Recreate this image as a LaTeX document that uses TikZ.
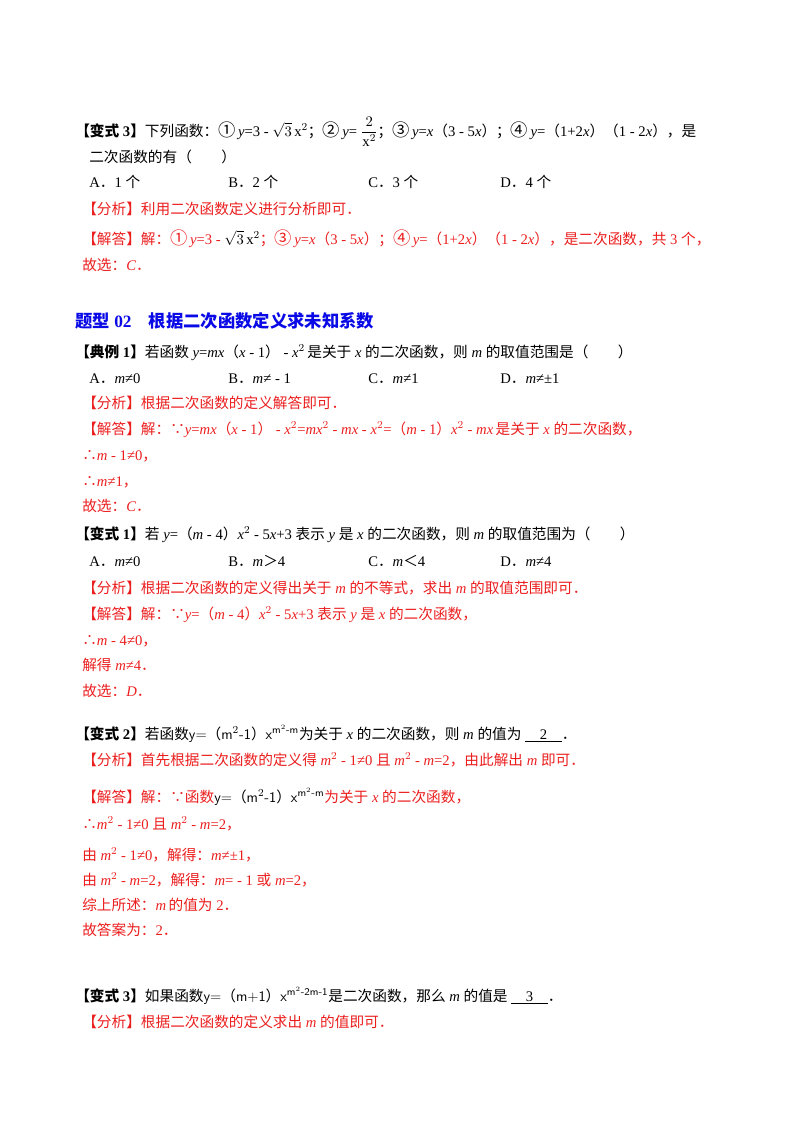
\documentclass[tikz,border=0pt]{standalone}
\usepackage{fontspec}
\usepackage{amsmath}
\setmainfont{Liberation Serif}
\newfontfamily\cjk{Noto Sans CJK SC}
\XeTeXinterchartokenstate=1
\newXeTeXintercharclass\cjkcls
\newXeTeXintercharclass\pcls
\makeatletter
\def\setcls#1#2#3{\count@=#1\relax\loop\XeTeXcharclass\count@=#3\ifnum\count@<#2\advance\count@ 1\repeat}
\setcls{"4E00}{"9FFF}\cjkcls\setcls{"3000}{"303F}\pcls\setcls{"FF00}{"FFEF}\pcls\setcls{"2460}{"2473}\pcls\setcls{"2234}{"2235}\pcls
\makeatother
\XeTeXinterchartoks 0 \cjkcls={\hspace{0.25em}\begingroup\cjk}
\XeTeXinterchartoks 4095 \cjkcls={\begingroup\cjk}
\XeTeXinterchartoks \cjkcls 0={\endgroup\hspace{0.25em}}
\XeTeXinterchartoks \cjkcls 4095={\endgroup}
\XeTeXinterchartoks 0 \pcls={\begingroup\cjk}
\XeTeXinterchartoks 4095 \pcls={\begingroup\cjk}
\XeTeXinterchartoks \pcls 0={\endgroup}
\XeTeXinterchartoks \pcls 4095={\endgroup}
\definecolor{rd}{RGB}{235,30,30}
\definecolor{bl}{RGB}{10,10,230}
\newcommand{\vi}[1]{\textit{#1}}
\newcommand{\gp}{\hspace{0.25em}}
\newcommand{\vs}[1]{\gp\textit{#1}\gp}
\newcommand{\ci}[1]{{\fontsize{13pt}{13pt}\selectfont #1}}
\newcommand{\pic}[1]{{\fontfamily{lmss}\selectfont\upshape #1}}
\begin{document}
\begin{tikzpicture}[x=0.75pt,y=-0.75pt,
 t/.style={anchor=base west,inner sep=0pt,font=\fontsize{11pt}{12pt}\selectfont},
 r/.style={t,text=rd},
 h/.style={anchor=base west,inner sep=0pt,font=\fontsize{13pt}{15pt}\selectfont\bfseries,text=bl}]
\useasboundingbox (0,0) rectangle (800,1132);
\node[t] (a1) at (75,136) {\textbf{【变式3】}下列函数：\ci{①}\,\vi{y}=3 - $\sqrt{3}\,\mathrm{x}^2$；\ci{②}\,\vi{y}= $\dfrac{2}{\mathrm{x}^2}$；\ci{③}\,\vi{y}=\vi{x}（3 - 5\vi{x}）；\ci{④}\,\vi{y}=（1+2\vi{x}）（1 - 2\vi{x}），是};
\node[t] (a2) at (89,162) {二次函数的有（\quad\quad）};
\node[t] (a3) at (89,187) {A．1个};
\node[t] (a4) at (228,187) {B．2个};
\node[t] (a5) at (368,187) {C．3个};
\node[t] (a6) at (500,187) {D．4个};
\node[r] (a7) at (82,214) {【分析】利用二次函数定义进行分析即可．};
\node[r] (a8) at (82,244) {【解答】解：\ci{①}\,\vi{y}=3 - {\color{black}$\sqrt{3}\,\mathrm{x}^2$}；\ci{③}\,\vi{y}=\vi{x}（3 - 5\vi{x}）；\ci{④}\,\vi{y}=（1+2\vi{x}）（1 - 2\vi{x}），是二次函数，共3个，};
\node[r] (a9) at (82,270) {故选：\vi{C}．};
\node[h] (hd) at (75,327) {题型02\quad 根据二次函数定义求未知系数};
\node[t] (b1) at (75,357) {\textbf{【典例1】}若函数\gp\vi{y}=\vi{mx}（\vi{x} - 1） - \vi{x}$^2$\,是关于\vs{x}的二次函数，则\vs{m}的取值范围是（\quad\quad）};
\node[t] (b2) at (89,383) {A．\vi{m}≠0};
\node[t] (b3) at (228,383) {B．\vi{m}≠ - 1};
\node[t] (b4) at (368,383) {C．\vi{m}≠1};
\node[t] (b5) at (500,383) {D．\vi{m}≠±1};
\node[r] (b6) at (82,408) {【分析】根据二次函数的定义解答即可．};
\node[r] (b7) at (82,434) {【解答】解：∵\vi{y}=\vi{mx}（\vi{x} - 1） - \vi{x}$^2$=\vi{mx}$^2$ - \vi{mx} - \vi{x}$^2$=（\vi{m} - 1）\vi{x}$^2$ - \vi{mx}\,是关于\vs{x}的二次函数，};
\node[r] (b8) at (82,460) {∴\vi{m} - 1≠0，};
\node[r] (b9) at (82,486) {∴\vi{m}≠1，};
\node[r] (b10) at (82,511) {故选：\vi{C}．};
\node[t] (c1) at (75,539) {\textbf{【变式1】}若\gp\vi{y}=（\vi{m} - 4）\vi{x}$^2$ - 5\vi{x}+3表示\vs{y}是\vs{x}的二次函数，则\vs{m}的取值范围为（\quad\quad）};
\node[t] (c2) at (89,566) {A．\vi{m}≠0};
\node[t] (c3) at (228,566) {B．\vi{m}＞4};
\node[t] (c4) at (368,566) {C．\vi{m}＜4};
\node[t] (c5) at (500,566) {D．\vi{m}≠4};
\node[r] (c6) at (82,593) {【分析】根据二次函数的定义得出关于\vs{m}的不等式，求出\vs{m}的取值范围即可．};
\node[r] (c7) at (82,619) {【解答】解：∵\vi{y}=（\vi{m} - 4）\vi{x}$^2$ - 5\vi{x}+3表示\vs{y}是\vs{x}的二次函数，};
\node[r] (c8) at (82,645) {∴\vi{m} - 4≠0，};
\node[r] (c9) at (82,670) {解得\gp\vi{m}≠4．};
\node[r] (c10) at (82,696) {故选：\vi{D}．};
\node[t] (d1) at (75,739) {\textbf{【变式2】}若函数\pic{y=（m$^2$-1）x$^{\text{m}^2\text{-m}}$}为关于\vs{x}的二次函数，则\vs{m}的值为\ \underline{\quad 2\quad}．};
\node[r] (d2) at (82,765) {【分析】首先根据二次函数的定义得\gp\vi{m}$^2$ - 1≠0且\gp\vi{m}$^2$ - \vi{m}=2，由此解出\vs{m}即可．};
\node[r] (d3) at (82,802) {【解答】解：∵函数{\color{black}\pic{y=（m$^2$-1）x$^{\text{m}^2\text{-m}}$}}为关于\vs{x}的二次函数，};
\node[r] (d4) at (82,829) {∴\vi{m}$^2$ - 1≠0且\gp\vi{m}$^2$ - \vi{m}=2，};
\node[r] (d5) at (82,860) {由\gp\vi{m}$^2$ - 1≠0，解得：\vi{m}≠±1，};
\node[r] (d6) at (82,885) {由\gp\vi{m}$^2$ - \vi{m}=2，解得：\vi{m}= - 1或\gp\vi{m}=2，};
\node[r] (d7) at (82,910) {综上所述：\vi{m}\,的值为2．};
\node[r] (d8) at (82,935) {故答案为：2．};
\node[t] (e1) at (75,1001) {\textbf{【变式3】}如果函数\pic{y=（m+1）x$^{\text{m}^2\text{-2m-1}}$}是二次函数，那么\vs{m}的值是\ \underline{\quad 3\quad}．};
\node[r] (e2) at (82,1027) {【分析】根据二次函数的定义求出\vs{m}的值即可．};
\end{tikzpicture}
\end{document}
